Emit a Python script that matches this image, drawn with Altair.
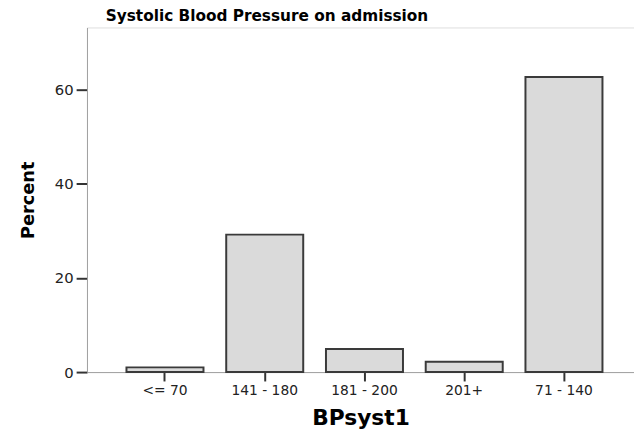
import altair as alt
import pandas as pd

categories = ["<= 70", "141 - 180", "181 - 200", "201+", "71 - 140"]
percent = [1.0, 29.2, 4.9, 2.2, 62.7]
y_ticks = [0, 20, 40, 60]

df = pd.DataFrame({"BPsyst1": categories, "Percent": percent})

bars = alt.Chart(df).mark_bar(
    fill="#dadada", stroke="#3a3a3a", strokeWidth=2
).encode(
    x=alt.X(
        "BPsyst1:N",
        sort=categories,
        scale=alt.Scale(paddingInner=0.228, paddingOuter=0.356, align=0.556),
        axis=alt.Axis(
            title="BPsyst1",
            labelAngle=0,
            labelFont="DejaVu Sans",
            labelFontSize=14,
            labelColor="#222222",
            labelPadding=3,
            tickSize=9,
            tickWidth=2,
            tickColor="#333333",
            domainColor="#a0a0a0",
            titleFont="DejaVu Sans",
            titleFontSize=22,
            titleFontWeight="bold",
            titleColor="#000000",
            titlePadding=10,
        ),
    ),
    y=alt.Y(
        "Percent:Q",
        scale=alt.Scale(domain=[0, 73.2], nice=False),
        axis=alt.Axis(
            title="Percent",
            values=y_ticks,
            grid=False,
            labelFont="DejaVu Sans",
            labelFontSize=15,
            labelColor="#222222",
            labelPadding=3,
            tickSize=11,
            tickWidth=2,
            tickColor="#333333",
            domainColor="#a0a0a0",
            titleFont="DejaVu Sans",
            titleFontSize=18,
            titleFontWeight="bold",
            titleColor="#000000",
            titlePadding=17,
        ),
    ),
)

chart = bars.properties(
    width=554,
    height=349,
    title=alt.TitleParams(
        "Systolic Blood Pressure on admission",
        anchor="start",
        frame="group",
        dx=19,
        font="DejaVu Sans",
        fontSize=15.5,
        fontWeight="bold",
        color="#000000",
        offset=3,
    ),
    autosize=alt.AutoSizeParams(type="none"),
    padding={"left": 80, "top": 17, "right": 0, "bottom": 62},
).configure_view(
    stroke="#a8a8a8", strokeWidth=1
).configure(background="white")

chart.save("out.html", embed_options={"renderer": "svg", "actions": False})
